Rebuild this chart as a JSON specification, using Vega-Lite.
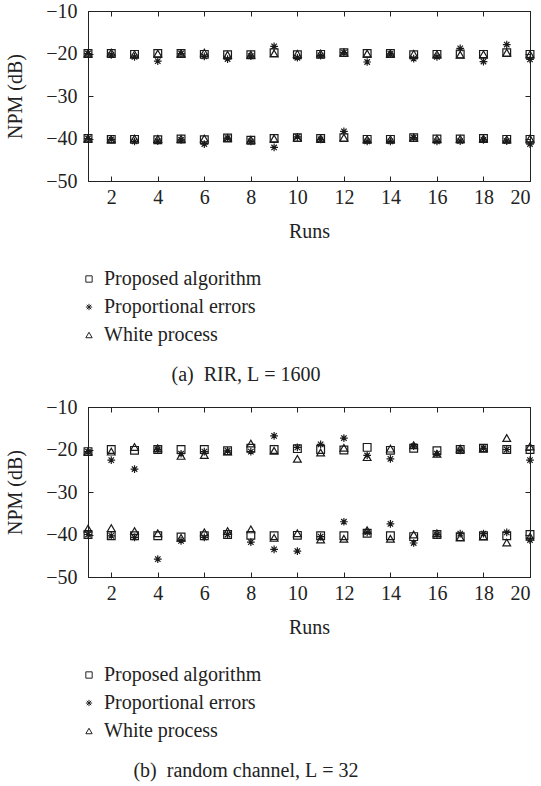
{
  "$schema": "https://vega.github.io/schema/vega-lite/v6.json",
  "padding": {"left": 5, "top": 0, "right": 0, "bottom": 0},
  "autosize": {"type": "pad"},
  "spacing": 10,
  "background": "white",
  "resolve": {"scale": {"shape": "independent", "x": "independent", "y": "independent"}, "legend": {"shape": "independent"}},
  "config": {
    "font": "Liberation Serif",
    "view": {"stroke": "#222", "strokeWidth": 1},
    "axis": {
      "grid": false,
      "domainColor": "#222",
      "domainWidth": 1,
      "tickColor": "#222",
      "tickWidth": 1,
      "tickSize": -5,
      "labelFont": "Liberation Serif",
      "labelFontSize": 20,
      "labelColor": "#222",
      "titleFont": "Liberation Serif",
      "titleFontSize": 20,
      "titleFontWeight": "normal",
      "titleColor": "#222"
    },
    "legend": {
      "orient": "bottom",
      "direction": "vertical",
      "offset": 28,
      "padding": 0,
      "labelFont": "Liberation Serif",
      "labelFontSize": 20,
      "labelColor": "#222",
      "symbolSize": 40,
      "symbolStrokeWidth": 1,
      "symbolStrokeColor": "#222",
      "symbolFillColor": "transparent",
      "symbolOffset": -9,
      "rowPadding": 8,
      "labelOffset": 5
    },
    "title": {
      "font": "Liberation Serif",
      "fontSize": 20,
      "fontWeight": "normal",
      "color": "#222"
    }
  },
  "datasets": {
    "a": [
      {"run":1,"series":"Proposed algorithm","npm":-20},{"run":1,"series":"Proportional errors","npm":-20},{"run":1,"series":"White process","npm":-20},
      {"run":2,"series":"Proposed algorithm","npm":-20},{"run":2,"series":"Proportional errors","npm":-20.3},{"run":2,"series":"White process","npm":-19.8},
      {"run":3,"series":"Proposed algorithm","npm":-20.2},{"run":3,"series":"Proportional errors","npm":-20.8},{"run":3,"series":"White process","npm":-20.2},
      {"run":4,"series":"Proposed algorithm","npm":-20},{"run":4,"series":"Proportional errors","npm":-21.8},{"run":4,"series":"White process","npm":-20},
      {"run":5,"series":"Proposed algorithm","npm":-20},{"run":5,"series":"Proportional errors","npm":-20},{"run":5,"series":"White process","npm":-20},
      {"run":6,"series":"Proposed algorithm","npm":-20.2},{"run":6,"series":"Proportional errors","npm":-20.7},{"run":6,"series":"White process","npm":-19.8},
      {"run":7,"series":"Proposed algorithm","npm":-20.3},{"run":7,"series":"Proportional errors","npm":-21.3},{"run":7,"series":"White process","npm":-20.3},
      {"run":8,"series":"Proposed algorithm","npm":-20.3},{"run":8,"series":"Proportional errors","npm":-20.6},{"run":8,"series":"White process","npm":-20.3},
      {"run":9,"series":"Proposed algorithm","npm":-19.8},{"run":9,"series":"Proportional errors","npm":-18.3},{"run":9,"series":"White process","npm":-20},
      {"run":10,"series":"Proposed algorithm","npm":-20.3},{"run":10,"series":"Proportional errors","npm":-21},{"run":10,"series":"White process","npm":-20.1},
      {"run":11,"series":"Proposed algorithm","npm":-20.2},{"run":11,"series":"Proportional errors","npm":-20.5},{"run":11,"series":"White process","npm":-20},
      {"run":12,"series":"Proposed algorithm","npm":-19.8},{"run":12,"series":"Proportional errors","npm":-19.8},{"run":12,"series":"White process","npm":-19.8},
      {"run":13,"series":"Proposed algorithm","npm":-20},{"run":13,"series":"Proportional errors","npm":-22},{"run":13,"series":"White process","npm":-20},
      {"run":14,"series":"Proposed algorithm","npm":-20},{"run":14,"series":"Proportional errors","npm":-20.1},{"run":14,"series":"White process","npm":-20},
      {"run":15,"series":"Proposed algorithm","npm":-20.3},{"run":15,"series":"Proportional errors","npm":-21.2},{"run":15,"series":"White process","npm":-20.1},
      {"run":16,"series":"Proposed algorithm","npm":-20.2},{"run":16,"series":"Proportional errors","npm":-20.8},{"run":16,"series":"White process","npm":-20.2},
      {"run":17,"series":"Proposed algorithm","npm":-20.1},{"run":17,"series":"Proportional errors","npm":-18.8},{"run":17,"series":"White process","npm":-20.3},
      {"run":18,"series":"Proposed algorithm","npm":-20.2},{"run":18,"series":"Proportional errors","npm":-21.9},{"run":18,"series":"White process","npm":-20.2},
      {"run":19,"series":"Proposed algorithm","npm":-19.8},{"run":19,"series":"Proportional errors","npm":-17.9},{"run":19,"series":"White process","npm":-19.8},
      {"run":20,"series":"Proposed algorithm","npm":-20.2},{"run":20,"series":"Proportional errors","npm":-21.4},{"run":20,"series":"White process","npm":-20.2},
      {"run":1,"series":"Proposed algorithm","npm":-40},{"run":1,"series":"Proportional errors","npm":-40},{"run":1,"series":"White process","npm":-40},
      {"run":2,"series":"Proposed algorithm","npm":-40.2},{"run":2,"series":"Proportional errors","npm":-40.2},{"run":2,"series":"White process","npm":-40.2},
      {"run":3,"series":"Proposed algorithm","npm":-40.2},{"run":3,"series":"Proportional errors","npm":-40.7},{"run":3,"series":"White process","npm":-40},
      {"run":4,"series":"Proposed algorithm","npm":-40.3},{"run":4,"series":"Proportional errors","npm":-40.6},{"run":4,"series":"White process","npm":-40.1},
      {"run":5,"series":"Proposed algorithm","npm":-40.1},{"run":5,"series":"Proportional errors","npm":-40.3},{"run":5,"series":"White process","npm":-40.1},
      {"run":6,"series":"Proposed algorithm","npm":-40.3},{"run":6,"series":"Proportional errors","npm":-41.3},{"run":6,"series":"White process","npm":-40},
      {"run":7,"series":"Proposed algorithm","npm":-39.9},{"run":7,"series":"Proportional errors","npm":-39.9},{"run":7,"series":"White process","npm":-39.9},
      {"run":8,"series":"Proposed algorithm","npm":-40.4},{"run":8,"series":"Proportional errors","npm":-40.7},{"run":8,"series":"White process","npm":-40.3},
      {"run":9,"series":"Proposed algorithm","npm":-40},{"run":9,"series":"Proportional errors","npm":-42.1},{"run":9,"series":"White process","npm":-40},
      {"run":10,"series":"Proposed algorithm","npm":-39.8},{"run":10,"series":"Proportional errors","npm":-39.6},{"run":10,"series":"White process","npm":-39.8},
      {"run":11,"series":"Proposed algorithm","npm":-40},{"run":11,"series":"Proportional errors","npm":-40.2},{"run":11,"series":"White process","npm":-40},
      {"run":12,"series":"Proposed algorithm","npm":-39.8},{"run":12,"series":"Proportional errors","npm":-38.3},{"run":12,"series":"White process","npm":-39.8},
      {"run":13,"series":"Proposed algorithm","npm":-40.2},{"run":13,"series":"Proportional errors","npm":-40.7},{"run":13,"series":"White process","npm":-40.2},
      {"run":14,"series":"Proposed algorithm","npm":-40.2},{"run":14,"series":"Proportional errors","npm":-40.7},{"run":14,"series":"White process","npm":-40.2},
      {"run":15,"series":"Proposed algorithm","npm":-39.8},{"run":15,"series":"Proportional errors","npm":-39.8},{"run":15,"series":"White process","npm":-39.8},
      {"run":16,"series":"Proposed algorithm","npm":-40.1},{"run":16,"series":"Proportional errors","npm":-40.7},{"run":16,"series":"White process","npm":-40.1},
      {"run":17,"series":"Proposed algorithm","npm":-40.1},{"run":17,"series":"Proportional errors","npm":-40.6},{"run":17,"series":"White process","npm":-40.1},
      {"run":18,"series":"Proposed algorithm","npm":-40},{"run":18,"series":"Proportional errors","npm":-40.3},{"run":18,"series":"White process","npm":-40},
      {"run":19,"series":"Proposed algorithm","npm":-40.2},{"run":19,"series":"Proportional errors","npm":-40.6},{"run":19,"series":"White process","npm":-40.2},
      {"run":20,"series":"Proposed algorithm","npm":-40.2},{"run":20,"series":"Proportional errors","npm":-41.3},{"run":20,"series":"White process","npm":-40}
    ],
    "b": [
      {"run":1,"series":"Proposed algorithm","npm":-20.5},{"run":1,"series":"Proportional errors","npm":-20.5},{"run":1,"series":"White process","npm":-20.5},
      {"run":2,"series":"Proposed algorithm","npm":-20},{"run":2,"series":"Proportional errors","npm":-22.5},{"run":2,"series":"White process","npm":-20.5},
      {"run":3,"series":"Proposed algorithm","npm":-20.2},{"run":3,"series":"Proportional errors","npm":-24.6},{"run":3,"series":"White process","npm":-19.4},
      {"run":4,"series":"Proposed algorithm","npm":-20},{"run":4,"series":"Proportional errors","npm":-20},{"run":4,"series":"White process","npm":-19.7},
      {"run":5,"series":"Proposed algorithm","npm":-20},{"run":5,"series":"Proportional errors","npm":-21},{"run":5,"series":"White process","npm":-21.5},
      {"run":6,"series":"Proposed algorithm","npm":-20},{"run":6,"series":"Proportional errors","npm":-20.5},{"run":6,"series":"White process","npm":-21.3},
      {"run":7,"series":"Proposed algorithm","npm":-20.3},{"run":7,"series":"Proportional errors","npm":-20.3},{"run":7,"series":"White process","npm":-20.5},
      {"run":8,"series":"Proposed algorithm","npm":-19.7},{"run":8,"series":"Proportional errors","npm":-20.5},{"run":8,"series":"White process","npm":-18.6},
      {"run":9,"series":"Proposed algorithm","npm":-20},{"run":9,"series":"Proportional errors","npm":-16.8},{"run":9,"series":"White process","npm":-20.3},
      {"run":10,"series":"Proposed algorithm","npm":-19.8},{"run":10,"series":"Proportional errors","npm":-19.5},{"run":10,"series":"White process","npm":-22.2},
      {"run":11,"series":"Proposed algorithm","npm":-20},{"run":11,"series":"Proportional errors","npm":-18.8},{"run":11,"series":"White process","npm":-20.7},
      {"run":12,"series":"Proposed algorithm","npm":-20.1},{"run":12,"series":"Proportional errors","npm":-17.3},{"run":12,"series":"White process","npm":-19.6},
      {"run":13,"series":"Proposed algorithm","npm":-19.5},{"run":13,"series":"Proportional errors","npm":-21.4},{"run":13,"series":"White process","npm":-21.8},
      {"run":14,"series":"Proposed algorithm","npm":-20.2},{"run":14,"series":"Proportional errors","npm":-22.2},{"run":14,"series":"White process","npm":-19.8},
      {"run":15,"series":"Proposed algorithm","npm":-19.7},{"run":15,"series":"Proportional errors","npm":-19.2},{"run":15,"series":"White process","npm":-19},
      {"run":16,"series":"Proposed algorithm","npm":-20.3},{"run":16,"series":"Proportional errors","npm":-21},{"run":16,"series":"White process","npm":-21},
      {"run":17,"series":"Proposed algorithm","npm":-20},{"run":17,"series":"Proportional errors","npm":-20.2},{"run":17,"series":"White process","npm":-19.8},
      {"run":18,"series":"Proposed algorithm","npm":-19.7},{"run":18,"series":"Proportional errors","npm":-19.7},{"run":18,"series":"White process","npm":-19.7},
      {"run":19,"series":"Proposed algorithm","npm":-20},{"run":19,"series":"Proportional errors","npm":-20},{"run":19,"series":"White process","npm":-17.3},
      {"run":20,"series":"Proposed algorithm","npm":-20},{"run":20,"series":"Proportional errors","npm":-22.5},{"run":20,"series":"White process","npm":-19.3},
      {"run":1,"series":"Proposed algorithm","npm":-40},{"run":1,"series":"Proportional errors","npm":-40},{"run":1,"series":"White process","npm":-38.6},
      {"run":2,"series":"Proposed algorithm","npm":-40.3},{"run":2,"series":"Proportional errors","npm":-40.3},{"run":2,"series":"White process","npm":-38.5},
      {"run":3,"series":"Proposed algorithm","npm":-40.3},{"run":3,"series":"Proportional errors","npm":-40.7},{"run":3,"series":"White process","npm":-39.2},
      {"run":4,"series":"Proposed algorithm","npm":-40.3},{"run":4,"series":"Proportional errors","npm":-45.8},{"run":4,"series":"White process","npm":-39.7},
      {"run":5,"series":"Proposed algorithm","npm":-40.6},{"run":5,"series":"Proportional errors","npm":-41.5},{"run":5,"series":"White process","npm":-40.8},
      {"run":6,"series":"Proposed algorithm","npm":-40.3},{"run":6,"series":"Proportional errors","npm":-40.7},{"run":6,"series":"White process","npm":-39.5},
      {"run":7,"series":"Proposed algorithm","npm":-40},{"run":7,"series":"Proportional errors","npm":-40},{"run":7,"series":"White process","npm":-39.2},
      {"run":8,"series":"Proposed algorithm","npm":-40.2},{"run":8,"series":"Proportional errors","npm":-41.8},{"run":8,"series":"White process","npm":-38.8},
      {"run":9,"series":"Proposed algorithm","npm":-40.3},{"run":9,"series":"Proportional errors","npm":-43.5},{"run":9,"series":"White process","npm":-40.8},
      {"run":10,"series":"Proposed algorithm","npm":-40.2},{"run":10,"series":"Proportional errors","npm":-43.9},{"run":10,"series":"White process","npm":-39.7},
      {"run":11,"series":"Proposed algorithm","npm":-40.3},{"run":11,"series":"Proportional errors","npm":-40.5},{"run":11,"series":"White process","npm":-41.2},
      {"run":12,"series":"Proposed algorithm","npm":-40.3},{"run":12,"series":"Proportional errors","npm":-37},{"run":12,"series":"White process","npm":-41},
      {"run":13,"series":"Proposed algorithm","npm":-39.7},{"run":13,"series":"Proportional errors","npm":-39.5},{"run":13,"series":"White process","npm":-39},
      {"run":14,"series":"Proposed algorithm","npm":-40.3},{"run":14,"series":"Proportional errors","npm":-37.5},{"run":14,"series":"White process","npm":-41},
      {"run":15,"series":"Proposed algorithm","npm":-40.5},{"run":15,"series":"Proportional errors","npm":-42},{"run":15,"series":"White process","npm":-40},
      {"run":16,"series":"Proposed algorithm","npm":-40},{"run":16,"series":"Proportional errors","npm":-40},{"run":16,"series":"White process","npm":-39.7},
      {"run":17,"series":"Proposed algorithm","npm":-40.5},{"run":17,"series":"Proportional errors","npm":-39.8},{"run":17,"series":"White process","npm":-40.7},
      {"run":18,"series":"Proposed algorithm","npm":-40.3},{"run":18,"series":"Proportional errors","npm":-39.8},{"run":18,"series":"White process","npm":-40.5},
      {"run":19,"series":"Proposed algorithm","npm":-40.3},{"run":19,"series":"Proportional errors","npm":-39.5},{"run":19,"series":"White process","npm":-41.9},
      {"run":20,"series":"Proposed algorithm","npm":-40},{"run":20,"series":"Proportional errors","npm":-41.3},{"run":20,"series":"White process","npm":-40.5}
    ]
  },
  "vconcat": [
    {
      "width": 442,
      "height": 170,
      "data": {"name": "a"},
      "title": {"text": "(a)\u00a0\u00a0RIR,\u00a0L\u00a0=\u00a01600", "orient": "bottom", "anchor": "middle", "dx": -63, "offset": 20},
      "layer": [
        {
          "mark": {"type": "point", "filled": false, "strokeWidth": 1.2, "color": "#1a1a1a", "opacity": 1, "size": 60},
          "encoding": {
            "x": {"field": "run", "type": "quantitative", "scale": {"domain": [1, 20], "nice": false, "zero": false},
                  "axis": {"orient": "bottom", "title": "Runs", "values": [2,4,6,8,10,12,14,16,18,20], "labelPadding": 11, "titlePadding": 14}},
            "y": {"field": "npm", "type": "quantitative", "scale": {"domain": [-50, -10], "nice": false, "zero": false},
                  "axis": {"orient": "left", "title": "NPM (dB)", "values": [-50,-40,-30,-20,-10], "labelPadding": 16, "titlePadding": 20}},
            "shape": {"field": "series", "type": "nominal",
                      "scale": {"domain": ["Proposed algorithm", "Proportional errors", "White process"],
                                "range": ["square", "M0,-1L0,1M-1,0L1,0M-0.7,-0.7L0.7,0.7M-0.7,0.7L0.7,-0.7", "triangle-up"]},
                      "legend": {"title": null}}
          }
        },
        {
          "mark": {"type": "point", "opacity": 0},
          "encoding": {
            "x": {"field": "run", "type": "quantitative", "axis": {"orient": "top", "labels": false, "title": null, "values": [2,4,6,8,10,12,14,16,18,20]}},
            "y": {"field": "npm", "type": "quantitative", "axis": {"orient": "right", "labels": false, "title": null, "values": [-50,-40,-30,-20,-10]}}
          }
        }
      ],
      "resolve": {"axis": {"x": "independent", "y": "independent"}}
    },
    {
      "width": 442,
      "height": 170,
      "data": {"name": "b"},
      "title": {"text": "(b)\u00a0\u00a0random channel,\u00a0L\u00a0=\u00a032", "orient": "bottom", "anchor": "middle", "dx": -63, "offset": 20},
      "layer": [
        {
          "mark": {"type": "point", "filled": false, "strokeWidth": 1.2, "color": "#1a1a1a", "opacity": 1, "size": 60},
          "encoding": {
            "x": {"field": "run", "type": "quantitative", "scale": {"domain": [1, 20], "nice": false, "zero": false},
                  "axis": {"orient": "bottom", "title": "Runs", "values": [2,4,6,8,10,12,14,16,18,20], "labelPadding": 11, "titlePadding": 14}},
            "y": {"field": "npm", "type": "quantitative", "scale": {"domain": [-50, -10], "nice": false, "zero": false},
                  "axis": {"orient": "left", "title": "NPM (dB)", "values": [-50,-40,-30,-20,-10], "labelPadding": 16, "titlePadding": 20}},
            "shape": {"field": "series", "type": "nominal",
                      "scale": {"domain": ["Proposed algorithm", "Proportional errors", "White process"],
                                "range": ["square", "M0,-1L0,1M-1,0L1,0M-0.7,-0.7L0.7,0.7M-0.7,0.7L0.7,-0.7", "triangle-up"]},
                      "legend": {"title": null}}
          }
        },
        {
          "mark": {"type": "point", "opacity": 0},
          "encoding": {
            "x": {"field": "run", "type": "quantitative", "axis": {"orient": "top", "labels": false, "title": null, "values": [2,4,6,8,10,12,14,16,18,20]}},
            "y": {"field": "npm", "type": "quantitative", "axis": {"orient": "right", "labels": false, "title": null, "values": [-50,-40,-30,-20,-10]}}
          }
        }
      ],
      "resolve": {"axis": {"x": "independent", "y": "independent"}}
    }
  ]
}
